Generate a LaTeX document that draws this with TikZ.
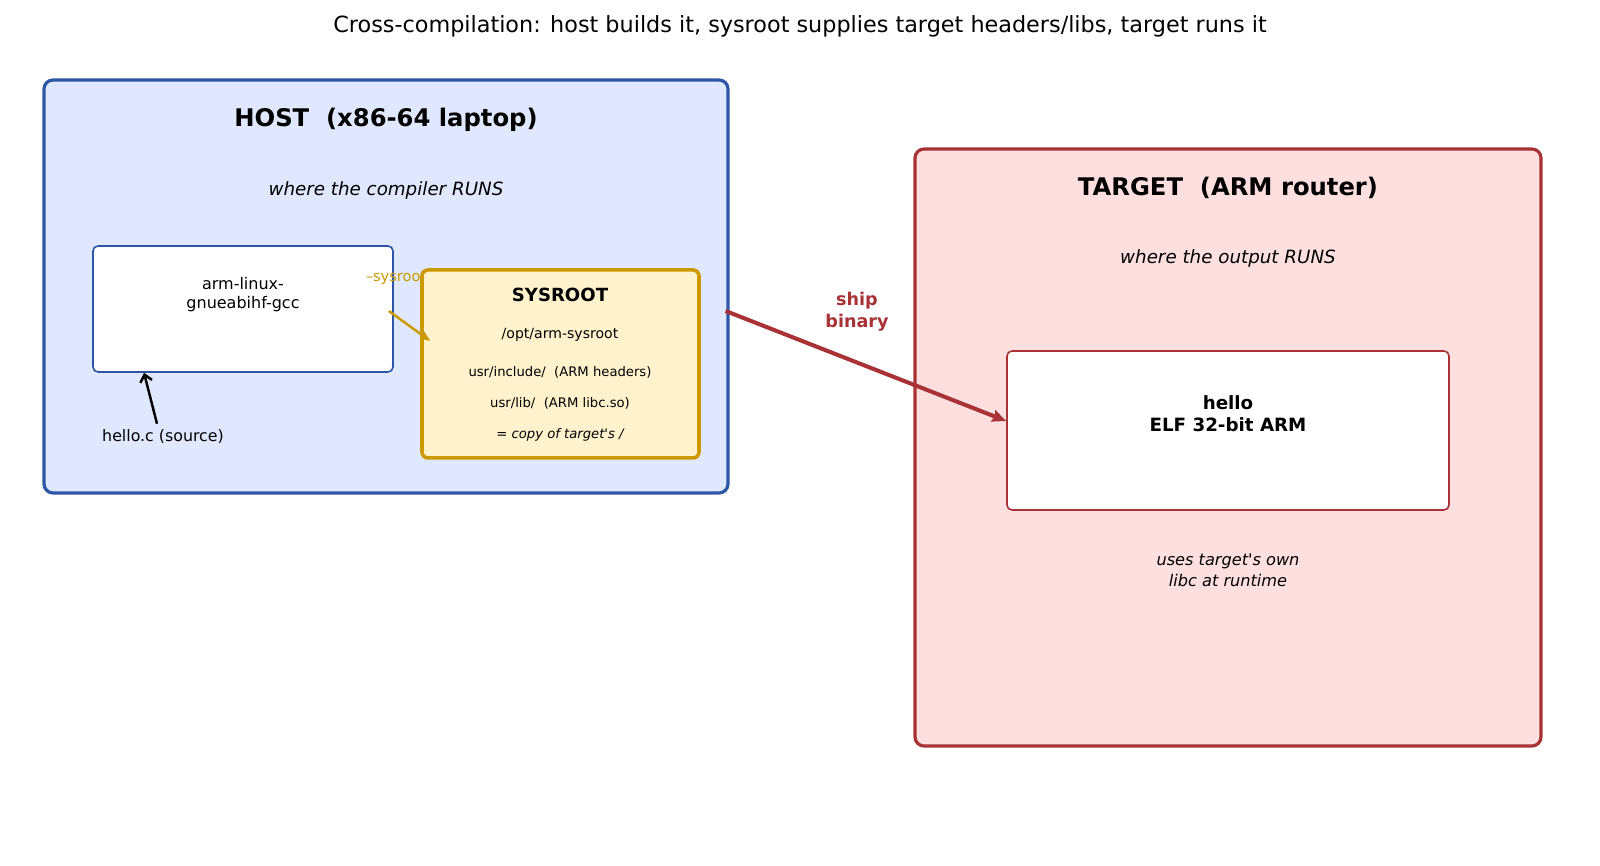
\documentclass[tikz,border=0pt]{standalone}
\usepackage{fontspec}
\setmainfont{DejaVu Sans}[Ligatures=TeXOff]
\usepackage{xcolor}
\usetikzlibrary{arrows.meta, positioning}
\definecolor{hostfill}{HTML}{DFE8FE}
\definecolor{hostline}{HTML}{2E56A6}
\definecolor{tgtfill}{HTML}{FDDFDF}
\definecolor{tgtline}{HTML}{A83236}
\definecolor{sysfill}{HTML}{FFF2CC}
\definecolor{sysline}{HTML}{CC9A00}
\tikzstyle{arrow} = [-{Stealth[length=0.2cm, width=0.16cm, inset=0.03cm]}]
\tikzstyle{zone} = [rectangle, draw, rounded corners=0.18cm, line width=1.8pt]
\tikzstyle{block} = [rectangle, draw, fill=white, rounded corners=0.1cm, line width=0.9pt]
\tikzset{every node/.style={align=center}}

\begin{document}
\begin{tikzpicture}
    \useasboundingbox (0,0) rectangle (32,17.32);
    \node (title) at (16,16.79) [font=\fontsize{12.7}{15}\selectfont] {Cross-compilation: host builds it, sysroot supplies target headers/libs, target runs it};

    % host side
    \node (host) [zone, draw=hostline, fill=hostfill, minimum width=13.68cm, minimum height=8.26cm] at (7.72,11.59) {};
    \node (hosttitle) at (7.72,14.92) [font=\fontsize{13.8}{16}\selectfont\bfseries] {HOST\ \ (x86-64 laptop)};
    \node (hostsub) at (7.72,13.52) [font=\fontsize{10.4}{12}\selectfont\itshape] {where the compiler RUNS};
    \node (gcc) [block, draw=hostline, minimum width=6cm, minimum height=2.52cm] at (4.86,11.14) {};
    \node (gcctext) at (4.86,11.43) [font=\fontsize{9.1}{11.2}\selectfont] {arm-linux-\\gnueabihf-gcc};
    \node (flag) [text=sysline, font=\fontsize{8.3}{10}\selectfont] at (7.92,11.77) {–sysroot};
    \node (src) at (3.26,8.58) [font=\fontsize{9}{11}\selectfont] {hello.c (source)};
    \node (sys) [zone, draw=sysline, fill=sysfill, line width=2pt, rounded corners=0.12cm, minimum width=5.54cm, minimum height=3.76cm] at (11.21,10.04) {};
    \node (systitle) at (11.2,11.43) [font=\fontsize{10.3}{12}\selectfont\bfseries] {SYSROOT};
    \node (syspath) at (11.2,10.63) [font=\fontsize{8}{10}\selectfont] {/opt/arm-sysroot};
    \node (sysinc) at (11.2,9.87) [font=\fontsize{7.5}{9}\selectfont] {usr/include/\ \ (ARM headers)};
    \node (syslib) at (11.2,9.25) [font=\fontsize{7.5}{9}\selectfont] {usr/lib/\ \ (ARM libc.so)};
    \node (syscopy) at (11.2,8.63) [font=\fontsize{7.5}{9}\selectfont\itshape] {= copy of target's /};

    % target side
    \node (tgt) [zone, draw=tgtline, fill=tgtfill, minimum width=12.52cm, minimum height=11.94cm] at (24.56,8.37) {};
    \node (tgttitle) at (24.56,13.56) [font=\fontsize{13.8}{16}\selectfont\bfseries] {TARGET\ \ (ARM router)};
    \node (tgtsub) at (24.56,12.16) [font=\fontsize{10.4}{12}\selectfont\itshape] {where the output RUNS};
    \node (elf) [block, draw=tgtline, minimum width=8.84cm, minimum height=3.18cm] at (24.56,8.71) {};
    \node (elftext) at (24.56,9.05) [font=\fontsize{10.4}{12.3}\selectfont\bfseries] {hello\\ELF 32-bit ARM};
    \node (libc) at (24.56,5.91) [font=\fontsize{9.2}{11.8}\selectfont\itshape] {uses target's own\\libc at runtime};
    \node (ship) [text=tgtline, font=\fontsize{10}{12.3}\selectfont\bfseries] at (17.14,11.09) {ship\\binary};

    \draw [-{Straight Barb[length=0.14cm, width=0.24cm]}, line width=1.4pt] ([xshift=-0.12cm]src.north) -- ([xshift=-1.98cm]gcc.south);
    \draw [arrow, sysline, line width=1.4pt] ([shift={(-0.1,-0.04)}]gcc.east) -- ([shift={(0.2,0.46)}]sys.west);
    \draw [-{Stealth[length=0.28cm, width=0.24cm, inset=0.04cm]}, tgtline, line width=2.3pt] ([shift={(-0.08,-0.49)}]host.east) -- ([yshift=0.19cm]elf.west);
\end{tikzpicture}
\end{document}
